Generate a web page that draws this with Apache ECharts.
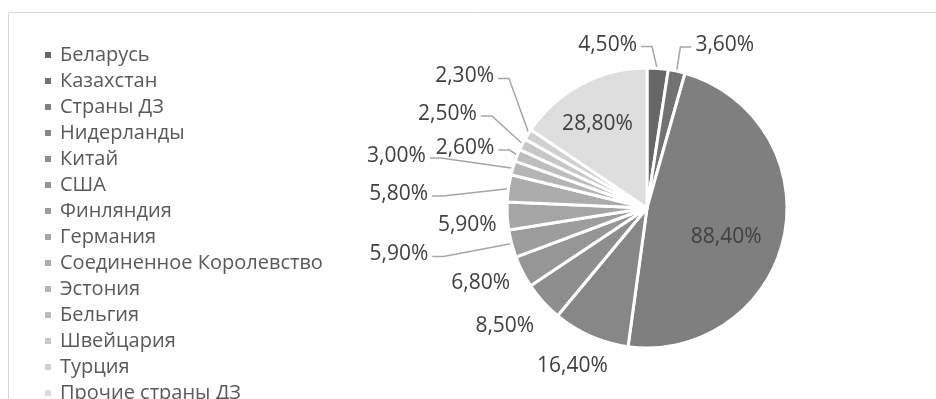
<!DOCTYPE html>
<html>
<head>
<meta charset="utf-8">
<script src="https://cdn.jsdelivr.net/npm/echarts@6/dist/echarts.min.js"></script>
<style>
  html, body { margin: 0; padding: 0; background: #fff; }
  #chart { width: 936px; height: 399px; }
</style>
</head>
<body>
<div id="chart"></div>
<script>
// Shares by country, in percent
const countries = [
  'Беларусь', 'Казахстан', 'Страны ДЗ', 'Нидерланды', 'Китай', 'США',
  'Финляндия', 'Германия', 'Соединенное Королевство', 'Эстония',
  'Бельгия', 'Швейцария', 'Турция', 'Прочие страны ДЗ'
];
const shares = [4.5, 3.6, 88.4, 16.4, 8.5, 6.8, 5.9, 5.9, 5.8, 3.0, 2.6, 2.5, 2.3, 28.8];
const sliceColors = [
  '#676767', '#727272', '#7f7f7f', '#878787', '#8e8e8e', '#969696', '#9d9d9d',
  '#a5a5a5', '#acacac', '#b5b5b5', '#bdbdbd', '#c8c8c8', '#d0d0d0', '#dedede'
];
// Slices whose value label sits inside the wedge
const insideLabels = ['Страны ДЗ', 'Прочие страны ДЗ'];

// Pie geometry
const CENTER = [647, 208];
const RADIUS = 140;
const OUTSIDE_DIST = RADIUS + 38;   // label centre distance for outside labels
const INSIDE_DIST = RADIUS * 0.6;   // label centre distance for inside labels

// Hand-tuned shift of each value label from its radial spot (px);
// labels pulled far from their wedge get a leader line.
const labelNudge = [
  [-53, 14], [40, 11], [-3, 12], [-3, -5], [-10, -1], [-8, -6], [-76, 1],
  [-2, 7], [-72, 11], [-80, -1], [-17, 7], [-41, -13], [-31, -38], [-10, -10]
];
const LEADER_MIN_SHIFT = 15;

const FONT = '"Open Sans", "DejaVu Sans", sans-serif';
const fmt = v => v.toFixed(2).replace('.', ',') + '%';

// Mid angle of every wedge, clockwise from 12 o'clock, in radians
const total = shares.reduce((a, b) => a + b, 0);
const midAngles = [];
{
  let acc = 0;
  shares.forEach(v => {
    midAngles.push((acc + v / 2) / total * Math.PI * 2);
    acc += v;
  });
}
const isInside = i => insideLabels.includes(countries[i]);
const hasLeader = i => !isInside(i) && Math.hypot(labelNudge[i][0], labelNudge[i][1]) > LEADER_MIN_SHIFT;

const data = countries.map((name, i) => {
  const item = { name, value: shares[i], itemStyle: { color: sliceColors[i] } };
  if (isInside(i)) item.label = { position: 'inside' };
  item.labelLine = { show: hasLeader(i) };
  return item;
});

function placeLabel(p) {
  const i = p.dataIndex;
  const a = midAngles[i];
  const d = isInside(i) ? INSIDE_DIST : OUTSIDE_DIST;
  const x = CENTER[0] + d * Math.sin(a) + labelNudge[i][0];
  const y = CENTER[1] - d * Math.cos(a) + labelNudge[i][1];
  const res = { x, y, align: 'center', verticalAlign: 'middle' };
  if (hasLeader(i)) {
    const edge = [CENTER[0] + (RADIUS - 2) * Math.sin(a), CENTER[1] - (RADIUS - 2) * Math.cos(a)];
    const w = p.labelRect.width;
    const leftOfEdge = x < edge[0];
    const sx = leftOfEdge ? x + w / 2 + 4 : x - w / 2 - 4;
    const hx = leftOfEdge ? sx + 11 : sx - 11;
    res.labelLinePoints = [edge, [hx, y + 2], [sx, y + 2]];
  }
  return res;
}

const chart = echarts.init(document.getElementById('chart'), null, { renderer: 'canvas' });
chart.setOption({
  animation: false,
  backgroundColor: '#ffffff',
  graphic: [{
    type: 'rect',
    shape: { x: 8.5, y: 12.5, width: 1000, height: 500 },
    style: { fill: 'none', stroke: '#d9d9d9', lineWidth: 1 },
    silent: true
  }],
  legend: {
    orient: 'vertical',
    left: 43,
    top: 45,
    height: 1000,
    padding: 0,
    itemWidth: 8,
    itemHeight: 8,
    itemGap: 6,
    icon: 'rect',
    textStyle: { fontFamily: FONT, fontSize: 20, color: '#595959', lineHeight: 20, padding: [0, 0, 0, 3] },
    data: countries
  },
  series: [{
    type: 'pie',
    center: CENTER,
    radius: [0, RADIUS],
    startAngle: 90,
    clockwise: true,
    avoidLabelOverlap: false,
    itemStyle: { borderColor: '#ffffff', borderWidth: 3 },
    label: {
      show: true,
      formatter: p => fmt(p.value),
      fontFamily: FONT,
      fontSize: 21,
      color: '#404040'
    },
    labelLine: {
      show: true,
      length: 10,
      length2: 10,
      lineStyle: { color: '#a6a6a6', width: 1.5 }
    },
    labelLayout: placeLabel,
    data
  }]
});
</script>
</body>
</html>
